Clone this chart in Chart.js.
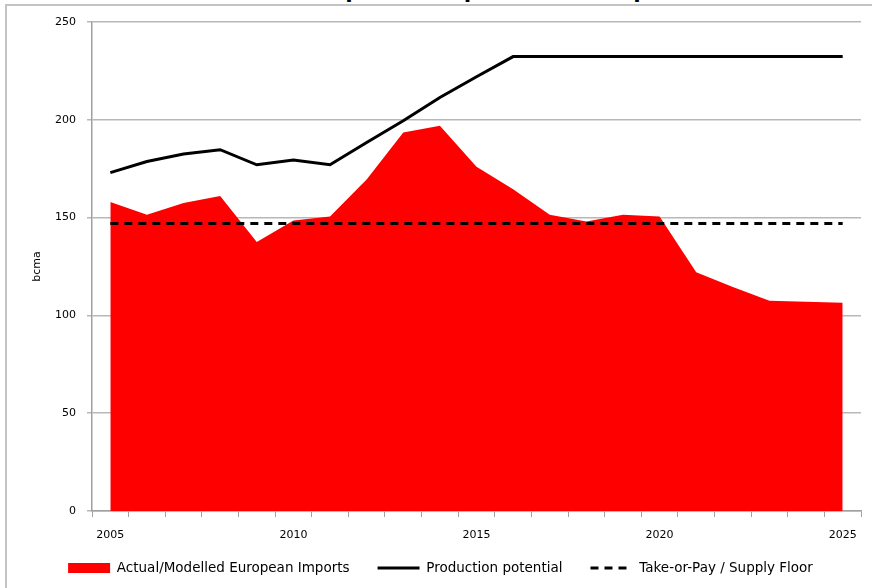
<!DOCTYPE html>
<html lang="en">
<head>
    <meta charset="UTF-8">
    <title>Russian Pipeline Exports to Europe</title>
    <script src="https://cdn.jsdelivr.net/npm/chart.js"></script>
    <style>
        html, body { margin: 0; padding: 0; background: #fff; overflow: hidden; }
        #wrap { position: relative; width: 872px; height: 588px; }
        #frame { position: absolute; left: 5px; top: 4px; width: 900px; height: 600px;
                 border-left: 2px solid #c4c4c4; border-top: 2px solid #c4c4c4; }
        #title { position: absolute; left: 0; top: -26px; width: 872px; text-align: center;
                 font: bold 27px "Liberation Sans", Arial, sans-serif; line-height: 27px; color: #000; }
        canvas { position: absolute; left: 0; top: 0; }
    </style>
</head>
<body>
<div id="wrap">
    <div id="frame"></div>
    <div id="title">Russian Pipeline Exports to Europe</div>
    <canvas id="gasChart" width="872" height="588"></canvas>
</div>

<script>
    const years = [2005, 2006, 2007, 2008, 2009, 2010, 2011, 2012, 2013, 2014, 2015,
                   2016, 2017, 2018, 2019, 2020, 2021, 2022, 2023, 2024, 2025];
    // bcma
    const imports = [158, 151.5, 157.5, 161, 137.5, 148.5, 150.5, 169.5, 193.5, 197, 176,
                     164.5, 151.5, 148, 151.5, 150.5, 122, 114.5, 107.5, 107, 106.5];
    const production = [173, 178.7, 182.5, 184.7, 177, 179.4, 177, 188.4, 199.5, 211.4, 222,
                        232.3, 232.3, 232.3, 232.3, 232.3, 232.3, 232.3, 232.3, 232.3, 232.3];
    const supplyFloor = [147, 147, 147, 147, 147, 147, 147, 147, 147, 147, 147,
                         147, 147, 147, 147, 147, 147, 147, 147, 147, 147];
    const yTicks = [0, 50, 100, 150, 200, 250];

    const tickFont = { family: '"DejaVu Sans", sans-serif', size: 11 };
    const legendFont = { family: '"DejaVu Sans", sans-serif', size: 13.5 };
    const legendPad = 28;

    // legend row sits a bit lower than chart.js would put it
    const legendShift = {
        id: 'legendShift',
        afterLayout(chart) {
            const lg = chart.legend;
            if (!lg) return;
            const h = lg.height;
            lg.top = 568 - legendPad - legendFont.size / 2;
            lg.bottom = lg.top + h;
        }
    };

    const ctx = document.getElementById('gasChart').getContext('2d');
    new Chart(ctx, {
        type: 'line',
        data: {
            labels: years,
            datasets: [
                {
                    label: 'Actual/Modelled European Imports',
                    data: imports,
                    backgroundColor: '#ff0000',
                    borderColor: '#ff0000',
                    borderWidth: 0,
                    fill: 'origin',
                    pointRadius: 0,
                    order: 3
                },
                {
                    label: 'Production potential',
                    data: production,
                    borderColor: '#000',
                    backgroundColor: '#000',
                    borderWidth: 3,
                    fill: false,
                    pointRadius: 0,
                    order: 2
                },
                {
                    label: 'Take-or-Pay / Supply Floor',
                    data: supplyFloor,
                    borderColor: '#000',
                    backgroundColor: '#000',
                    borderWidth: 3,
                    borderDash: [8, 6],
                    fill: false,
                    pointRadius: 0,
                    order: 1
                }
            ]
        },
        plugins: [legendShift],
        options: {
            responsive: false,
            animation: false,
            layout: { padding: { left: 20, right: 11, top: 22, bottom: -8.5 } },
            plugins: {
                tooltip: { enabled: false },
                legend: {
                    position: 'bottom',
                    labels: {
                        usePointStyle: true,
                        pointStyleWidth: 42,
                        boxHeight: 10,
                        padding: legendPad,
                        color: '#000',
                        font: legendFont,
                        generateLabels: chart => chart.data.datasets.map((ds, i) => ({
                            text: ds.label,
                            fillStyle: ds.backgroundColor,
                            strokeStyle: ds.borderColor,
                            lineWidth: i === 0 ? 0 : 3,
                            lineDash: ds.borderDash || [],
                            pointStyle: i === 0 ? 'rect' : 'line',
                            fontColor: '#000',
                            hidden: false,
                            datasetIndex: i
                        }))
                    }
                }
            },
            scales: {
                x: {
                    offset: true,
                    afterFit: scale => { scale.height = 34; },
                    grid: {
                        offset: true,
                        drawOnChartArea: false,
                        drawTicks: true,
                        tickLength: 6,
                        color: '#a0a0a0'
                    },
                    border: { color: '#a0a0a0', width: 1.5 },
                    ticks: {
                        autoSkip: false,
                        maxRotation: 0,
                        padding: 12,
                        color: '#000',
                        font: tickFont,
                        callback: function (value, index) {
                            const y = years[index];
                            return y % 5 === 0 ? String(y) : '';
                        }
                    }
                },
                y: {
                    min: 0,
                    max: 250,
                    afterBuildTicks: scale => { scale.ticks = yTicks.map(v => ({ value: v })); },
                    afterFit: scale => { scale.width = 72; },
                    grid: { color: '#b8b8b8', lineWidth: 1.5, tickLength: 5 },
                    border: { color: '#a0a0a0', width: 1.5 },
                    ticks: {
                        padding: 11,
                        color: '#000',
                        font: tickFont
                    },
                    title: {
                        display: true,
                        text: 'bcma',
                        color: '#000',
                        font: { family: '"DejaVu Sans", sans-serif', size: 11 },
                        padding: { top: 11, bottom: 0 }
                    }
                }
            }
        }
    });
</script>
</body>
</html>
